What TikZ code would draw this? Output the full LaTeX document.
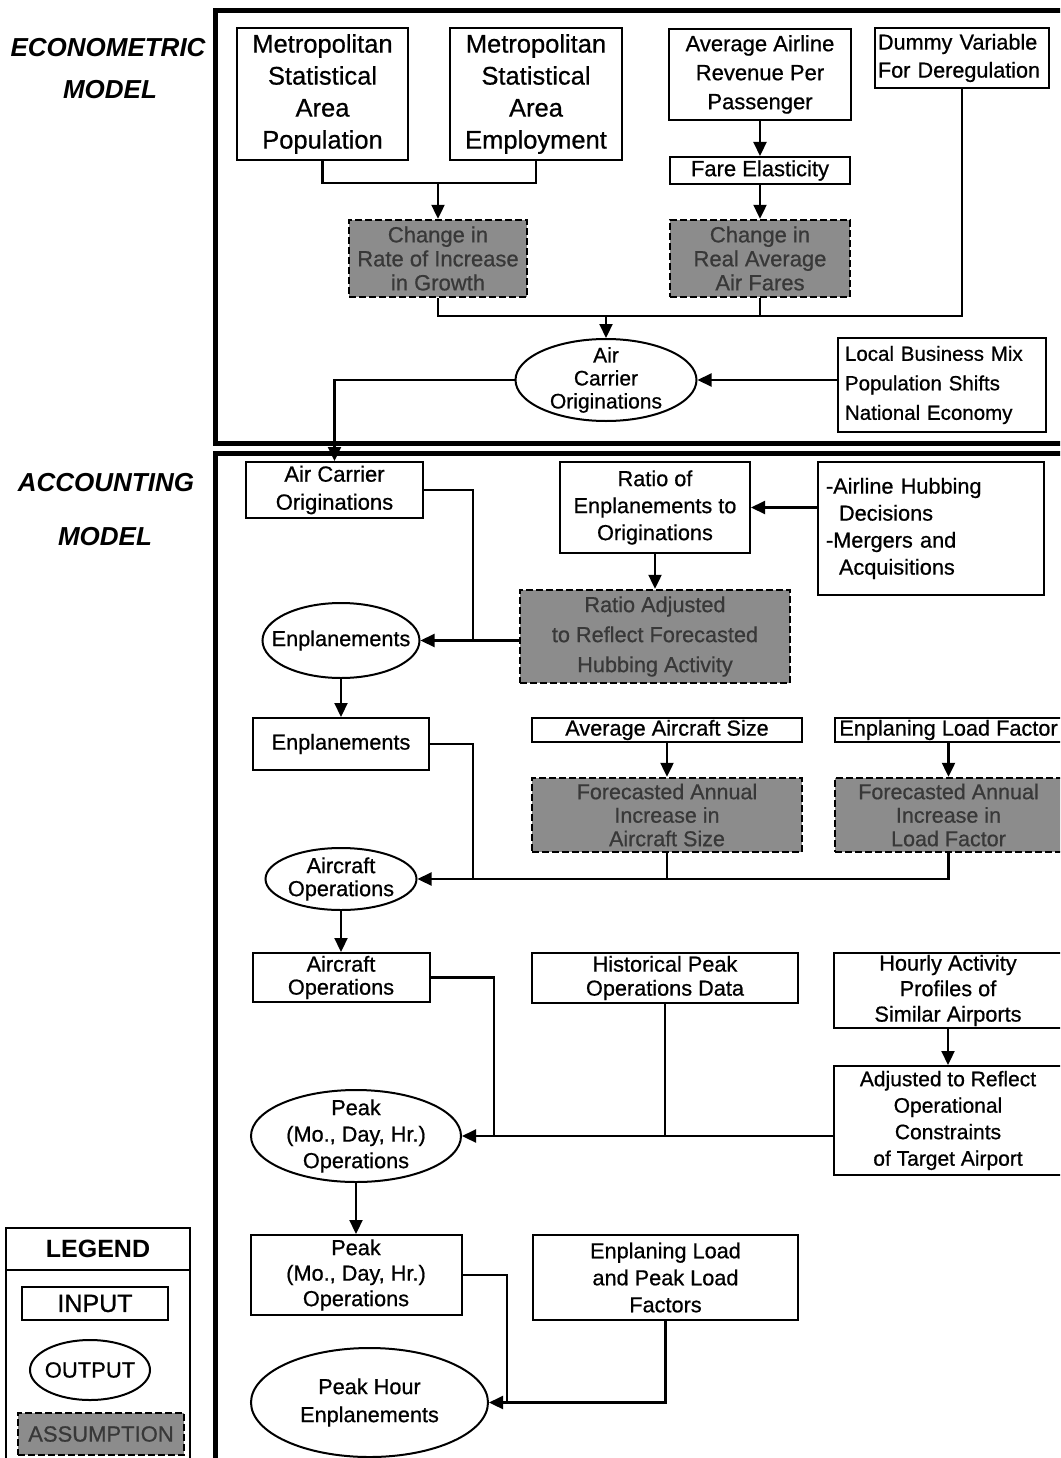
\documentclass[tikz,border=0pt]{standalone}
\usepackage{fontspec}
\setmainfont{Liberation Sans}[UprightFeatures={FakeBold=0.7}]
\usetikzlibrary{shapes.geometric,arrows.meta}
\begin{document}
\begin{tikzpicture}[x=1pt,y=-1pt,
  fnt/.style 2 args={font=\fontsize{#1pt}{#2pt}\selectfont},
  inbox/.style={draw, line width=2pt, inner sep=0pt, align=center, fnt={21.7}{27}},
  asm/.style={draw, line width=2.4pt, dash pattern=on 7pt off 3pt, fill=black!45, text=black!78, inner sep=0pt, align=center, fnt={21.7}{24}},
  outnode/.style={draw, ellipse, line width=2pt, inner sep=0pt},
  lbl/.style={align=center, inner sep=0pt, fnt={21.7}{23}},
  conn/.style={line width=2.2pt},
  arr/.style={conn, -{Triangle[length=14pt,width=13pt]}},
  frame/.style={line width=5pt},
  head/.style={font=\fontsize{26pt}{30pt}\selectfont\bfseries\itshape}
]
\useasboundingbox (0,0) rectangle (1060,1458);
\fill[white] (0,0) rectangle (1060,1458);
\clip (0,0) rectangle (1060,1458);

% frames
\draw[frame] (215.5,10.5) rectangle (1080,443.5);
\draw[frame] (215.5,453.5) rectangle (1080,1500);

% headings
\node[head] (hE) at (108,48) {ECONOMETRIC};
\node[head] (hM1) at (110,90) {MODEL};
\node[head] (hA) at (106,483) {ACCOUNTING};
\node[head] (hM2) at (105,537) {MODEL};

% econometric model
\node[inbox, fnt={25.5}{32}, minimum width=171pt, minimum height=132pt] (A) at (322.5,94) {Metropolitan\\Statistical\\Area\\Population};
\node[inbox, fnt={25.5}{32}, minimum width=172pt, minimum height=132pt] (B) at (536,94) {Metropolitan\\Statistical\\Area\\Employment};
\node[inbox, fnt={22}{29}, minimum width=182pt, minimum height=91pt] (C) at (760,74.5) {Average Airline\\Revenue Per\\Passenger};
\node[inbox, fnt={22}{26}, minimum width=180pt, minimum height=27pt] (D) at (760,170.5) {Fare Elasticity};
\node[asm, fnt={22}{24}, minimum width=178pt, minimum height=77pt] (E1) at (438,258.5) {Change in\\Rate of Increase\\in Growth};
\node[asm, fnt={22}{24}, minimum width=180pt, minimum height=77pt] (E2) at (760,258.5) {Change in\\Real Average\\Air Fares};
\node[inbox, fnt={21.6}{28}, align=left, text width=168pt, minimum width=174pt, minimum height=60pt] (F) at (962,58) {Dummy Variable\\For Deregulation};
\node[outnode, minimum width=181pt, minimum height=82pt, label={[lbl, fnt={21}{23}]center:{Air\\Carrier\\Originations}}] (O1) at (606,380) {};
\node[inbox, align=left, text width=194pt, fnt={20.5}{29.5}, minimum width=208pt, minimum height=94pt] (G) at (942,385) {Local Business Mix\\Population Shifts\\National Economy};

% accounting model
\node[inbox, fnt={22}{28}, minimum width=177pt, minimum height=56pt] (H) at (334.5,490) {Air Carrier\\Originations};
\node[inbox, minimum width=190pt, minimum height=91pt] (I) at (655,507.5) {Ratio of\\Enplanements to\\Originations};
\node[inbox, align=left, text width=210pt, minimum width=226pt, minimum height=133pt] (J) at (931,528.5) {-Airline Hubbing\\\hspace*{13pt}Decisions\\-Mergers and\\\hspace*{13pt}Acquisitions};
\node[asm, fnt={21.7}{30}, minimum width=270pt, minimum height=93pt] (K) at (655,636.5) {Ratio Adjusted\\to Reflect Forecasted\\Hubbing Activity};
\node[outnode, minimum width=157pt, minimum height=75pt, label={[lbl]center:{Enplanements}}] (L) at (341,640.5) {};
\node[inbox, minimum width=176pt, minimum height=52pt] (M) at (341,744) {Enplanements};
\node[inbox, minimum width=270pt, minimum height=24pt] (N) at (667,730) {Average Aircraft Size};
\node[inbox, minimum width=227pt, minimum height=24pt] (O) at (948.5,730) {Enplaning Load Factor};
\node[asm, fnt={21.5}{23.5}, minimum width=270pt, minimum height=74pt] (P) at (667,815) {Forecasted Annual\\Increase in\\Aircraft Size};
\node[asm, fnt={21.5}{23.5}, minimum width=227pt, minimum height=74pt] (Q) at (948.5,815) {Forecasted Annual\\Increase in\\Load Factor};
\node[outnode, minimum width=151pt, minimum height=62pt, label={[lbl]center:{Aircraft\\Operations}}] (R) at (341,879) {};
\node[inbox, fnt={21.7}{23}, minimum width=177pt, minimum height=49pt] (S) at (341,977.5) {Aircraft\\Operations};
\node[inbox, fnt={21.7}{24}, minimum width=266pt, minimum height=50pt] (T) at (665,978) {Historical Peak\\Operations Data};
\node[inbox, fnt={21.7}{25.5}, minimum width=228pt, minimum height=75pt] (U) at (948,990.5) {Hourly Activity\\Profiles of\\Similar Airports};
\node[inbox, fnt={21}{26.5}, minimum width=228pt, minimum height=109pt] (V) at (948,1120.5) {Adjusted to Reflect\\Operational\\Constraints\\of Target Airport};
\node[outnode, minimum width=210pt, minimum height=92pt, label={[lbl, fnt={21.7}{26.5}]center:{Peak\\(Mo., Day, Hr.)\\Operations}}] (W) at (356,1136) {};
\node[inbox, fnt={21.7}{25.5}, minimum width=211pt, minimum height=80pt] (X) at (356,1275) {Peak\\(Mo., Day, Hr.)\\Operations};
\node[inbox, fnt={21.7}{27}, minimum width=265pt, minimum height=85pt] (Z) at (665.5,1277.5) {Enplaning Load\\and Peak Load\\Factors};
\node[outnode, minimum width=237pt, minimum height=109pt, label={[lbl, fnt={21.7}{28}]center:{Peak Hour\\Enplanements}}] (Y) at (369.5,1402.5) {};

% legend
\draw[line width=2pt] (6,1228) rectangle (190,1490);
\draw[line width=2pt] (6,1270) -- (190,1270);
\node[font=\fontsize{25pt}{28pt}\selectfont\bfseries] (lg) at (98,1249) {LEGEND};
\node[inbox, fnt={25}{28}, minimum width=146pt, minimum height=33pt] (lin) at (95,1303.5) {INPUT};
\node[outnode, minimum width=120pt, minimum height=60pt, label={[lbl, fnt={22}{24}]center:{OUTPUT}}] (lout) at (90,1370) {};
\node[asm, fnt={22}{24}, minimum width=166pt, minimum height=42pt] (las) at (101,1434) {ASSUMPTION};

% connectors: econometric
\draw[conn] (A.south) -- ++(0,22) -| (B.south);
\coordinate (j1) at (438,182);
\draw[arr] (j1) -- (E1.north);
\draw[arr] (C.south) -- (D.north);
\draw[arr] (D.south) -- (E2.north);
\coordinate (j2) at (606,316);
\draw[conn] (E1.south) |- (j2) -| (F.south);
\draw[conn] (E2.south) -- (E2.south |- j2);
\draw[arr] (j2) -- (O1.north);
\draw[arr] (G.west |- O1.east) -- (O1.east);
\draw[arr] (O1.west) -| (H.north);

% connectors: accounting
\coordinate (jH) at (473,0);
\draw[conn] (H.east) -| (jH |- L.east);
\draw[arr] (J.west |- I.east) -- (I.east);
\draw[arr] (I.south) -- (K.north);
\draw[arr] (K.west |- L.east) -- (L.east);
\draw[arr] (L.south) -- (M.north);
\coordinate (jM) at (473,0);
\draw[conn] (M.east) -| (jM |- R.east);
\draw[arr] (N.south) -- (P.north);
\draw[arr] (O.south) -- (Q.north);
\draw[conn] (P.south) -- (P.south |- R.east);
\draw[arr] (Q.south) |- (R.east);
\draw[arr] (R.south) -- (S.north);
\coordinate (jS) at (494,0);
\draw[conn] (S.east) -| (jS |- W.east);
\draw[conn] (T.south) -- (T.south |- W.east);
\draw[arr] (U.south) -- (V.north);
\draw[arr] (V.west |- W.east) -- (W.east);
\draw[arr] (W.south) -- (X.north);
\coordinate (jX) at (507,0);
\draw[conn] (X.east) -| (jX |- Y.east);
\draw[arr] (Z.south) |- (Y.east);
\end{tikzpicture}
\end{document}
